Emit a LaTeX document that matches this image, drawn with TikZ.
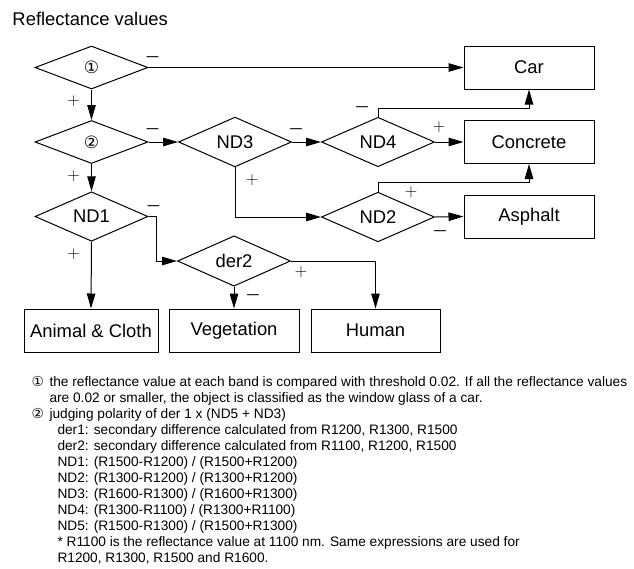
\documentclass[tikz,border=0pt]{standalone}
\usepackage{fontspec}
\setmainfont{Liberation Sans}
\newfontfamily\circfont{DejaVu Sans}
\usetikzlibrary{arrows.meta,shapes.geometric,calc,positioning}

\begin{document}
\begin{tikzpicture}[x=1pt,y=-1pt,line width=1pt,>={Triangle[length=15pt,width=8.5pt]}]
\tikzstyle{test}=[diamond,draw,minimum width=113pt,minimum height=43pt,inner sep=0pt,font=\fontsize{18.4}{20}\selectfont]
\tikzstyle{result}=[rectangle,draw,minimum width=130pt,minimum height=43pt,inner sep=0pt,font=\fontsize{18.4}{20}\selectfont]
\tikzstyle{plus}=[inner sep=0pt,font=\fontsize{18}{20}\selectfont]
\tikzstyle{minus}=[inner sep=0pt,font=\fontsize{16}{20}\selectfont\boldmath]
\tikzstyle{arr}=[->]

\useasboundingbox (0,0) rectangle (634,568);

\node[anchor=base west,inner sep=0pt,font=\fontsize{18.4}{20}\selectfont] (title) at (12,25) {Reflectance values};

% decisions
\node[test] (d1) at (91.5,67.5) {\circfont\fontsize{17}{20}\selectfont ①};
\node[test] (d2) at (91.5,142) {\circfont\fontsize{17}{20}\selectfont ②};
\node[test] (nd1) at (91.5,216.5) {ND1};
\node[test] (nd3) at (235,142) {ND3};
\node[test] (der2) at (234,261) {der2};
\node[test] (nd4) at (378,142) {ND4};
\node[test] (nd2) at (378,217) {ND2};

% classes
\node[result] (car) at (529,67.5) {Car};
\node[result] (concrete) at (529,142) {Concrete};
\node[result] (asphalt) at (529,216.5) {Asphalt};
\node[result, minimum width=134pt] (animal) at (91,330.5) {Animal \& Cloth};
\node[result] (veg) at (234,330.5) {Vegetation};
\node[result, minimum width=129pt] (human) at (375.5,330.5) {Human};

\draw[arr] (d1.east) -- (car.west);
\draw[arr] (d1.south) -- (d2.north);
\draw[arr] (d2.east) -- (nd3.west);
\draw[arr] (d2.south) -- (nd1.north);
\draw[arr] (nd3.east) -- (nd4.west);
\draw[arr] (nd3.south) |- (nd2.west);
\draw[arr] (nd4.north) -- ++(0,-8) -| (car.south);
\draw[arr] (nd4.east) -- (concrete.west);
\draw[arr] (nd2.north) -- ++(0,-9) -| (concrete.south);
\draw[arr] (nd2.east) -- (asphalt.west);
\draw[arr] (nd1.east) -- ++(8,0) |- (der2.west);
\draw[arr] (nd1.south) -- (animal.north);
\draw[arr] (der2.south) -- (veg.north);
\draw[arr] (der2.east) -| (human.north);

% signs
\node[minus] (m1) at ($(d1.east)+(4,-10)$) {$-$};
\node[plus] (p1) at ($(d1.south)+(-18,12)$) {$+$};
\node[minus] (m2) at ($(d2.east)+(4,-13)$) {$-$};
\node[plus] (p2) at ($(d2.south)+(-18,12)$) {$+$};
\node[minus] (m3) at ($(nd3.east)+(4,-13)$) {$-$};
\node[plus] (p3) at ($(nd3.south)+(17,13)$) {$+$};
\node[minus] (m4) at ($(nd4.north)+(-16,-10)$) {$-$};
\node[plus] (p4) at ($(nd4.east)+(4,-15)$) {$+$};
\node[plus] (p5) at ($(nd2.north)+(33,1)$) {$+$};
\node[minus] (m5) at ($(nd2.east)+(5,14)$) {$-$};
\node[minus] (m6) at ($(nd1.east)+(5,-10)$) {$-$};
\node[plus] (p6) at ($(nd1.south)+(-18,12)$) {$+$};
\node[minus] (m7) at ($(der2.south)+(19,9)$) {$-$};
\node[plus] (p7) at ($(der2.east)+(10,11)$) {$+$};

% notes
\node[anchor=north west,inner sep=0pt,align=left,font=\fontsize{13.7}{16}\selectfont] (notes) at (31,376) {%
\makebox[18pt][l]{\circfont ①}the reflectance value at each band is compared with threshold 0.02. If all the reflectance values\\
\hspace*{18pt}are 0.02 or smaller, the object is classified as the window glass of a car.\\
\makebox[18pt][l]{\circfont ②}judging polarity of der 1 x (ND5 + ND3)\\
\hspace*{26pt}der1: secondary difference calculated from R1200, R1300, R1500\\
\hspace*{26pt}der2: secondary difference calculated from R1100, R1200, R1500\\
\hspace*{26pt}ND1: (R1500-R1200) / (R1500+R1200)\\
\hspace*{26pt}ND2: (R1300-R1200) / (R1300+R1200)\\
\hspace*{26pt}ND3: (R1600-R1300) / (R1600+R1300)\\
\hspace*{26pt}ND4: (R1300-R1100) / (R1300+R1100)\\
\hspace*{26pt}ND5: (R1500-R1300) / (R1500+R1300)\\
\hspace*{26pt}* R1100 is the reflectance value at 1100 nm. Same expressions are used for\\
\hspace*{26pt}R1200, R1300, R1500 and R1600.};
\end{tikzpicture}
\end{document}
